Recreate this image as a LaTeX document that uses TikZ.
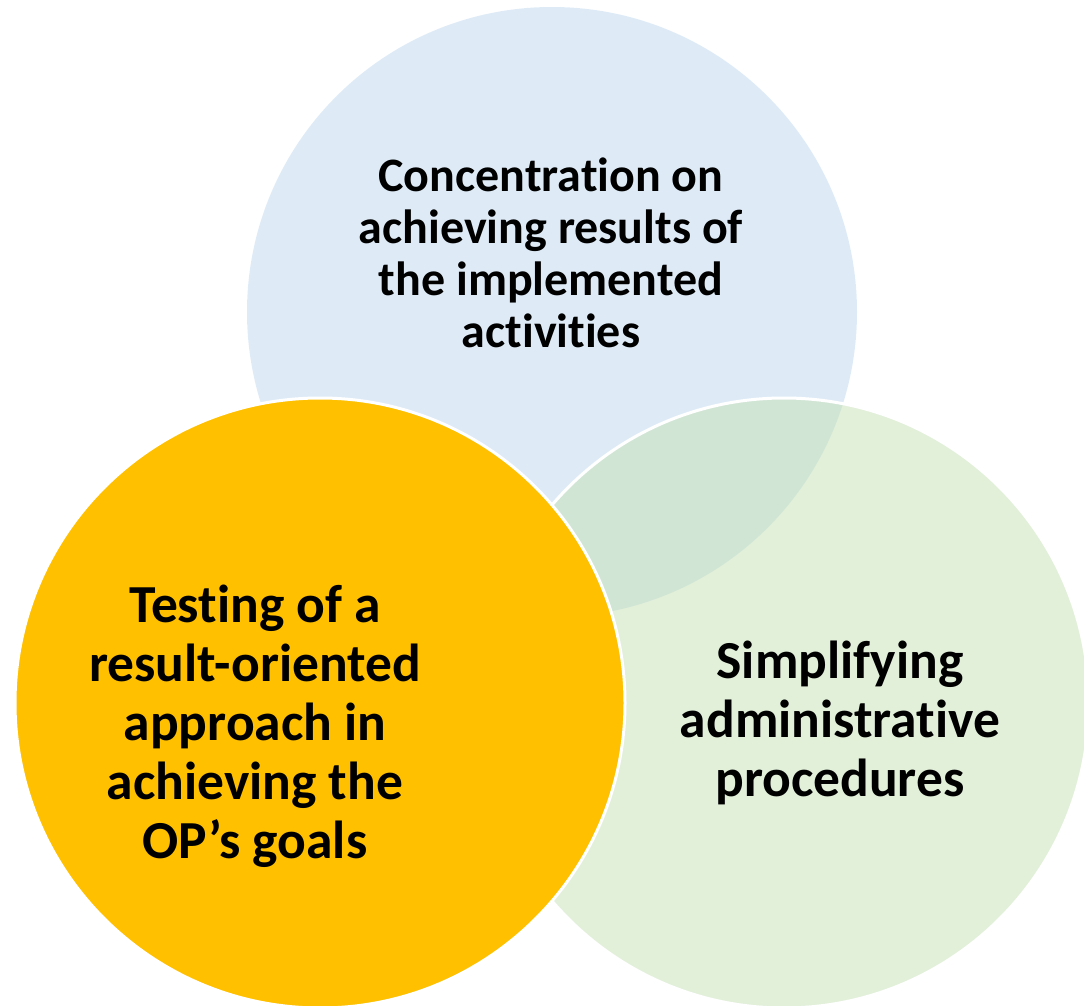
\documentclass[tikz,border=0pt]{standalone}
\usepackage{fontspec}
\setmainfont{Carlito}[RawFeature=-liga]
\begin{document}
\begin{tikzpicture}[x=1pt,y=-1pt,
  blob/.style={circle,minimum size=610pt,inner sep=0pt},
  lbl/.style={align=center,font=\bfseries\fontsize{48}{52}\selectfont,text=black},
  lblbig/.style={align=center,font=\bfseries\fontsize{53.5}{59}\selectfont,text=black}]
\useasboundingbox (0,0) rectangle (1084,1006);
\begin{scope}
\clip (0,0) rectangle (1084,1006);
\node[blob,fill={rgb,255:red,222;green,235;blue,247}] (blue) at (552,312) {};
\node[blob,fill={rgb,255:red,197;green,224;blue,180},fill opacity=0.5,draw=white,line width=3pt] (green) at (784,703) {};
\node[blob,fill={rgb,255:red,255;green,192;blue,0},draw=white,line width=3pt] (yellow) at (320,703) {};
\end{scope}
\node[lbl] (tb) at (551,253) {Concentration on\\achieving results of\\the implemented\\activities};
\node[lblbig] (tg) at (840,723) {Simplifying\\administrative\\procedures};
\node[lblbig] (ty) at (255,726) {Testing of a\\result-oriented\\approach in\\achieving the\\OP’s goals};
\end{tikzpicture}
\end{document}
